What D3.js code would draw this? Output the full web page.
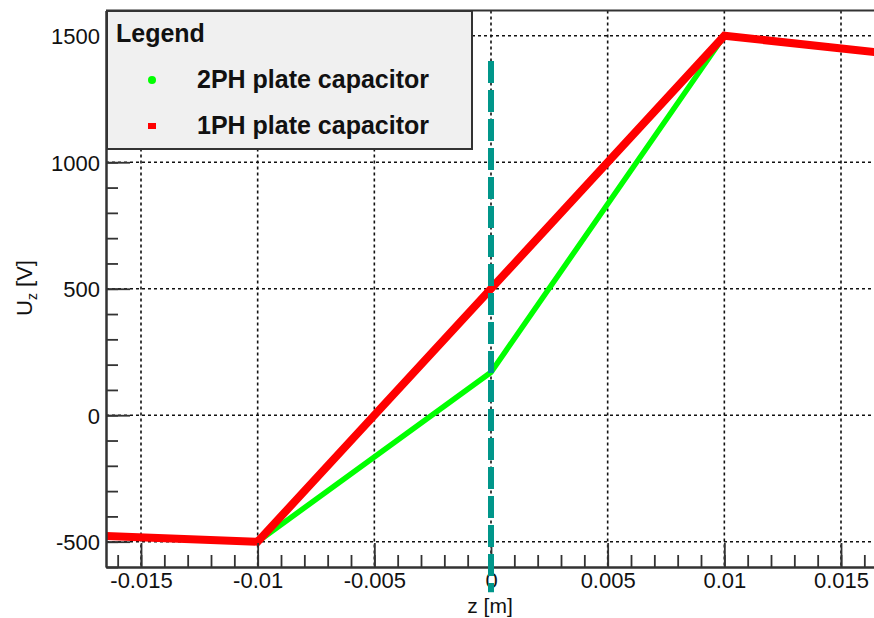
<!DOCTYPE html>
<html>
<head>
<meta charset="utf-8">
<script src="https://cdn.jsdelivr.net/npm/d3@7"></script>
<style>
  html, body { margin: 0; padding: 0; background: #fff; }
  svg { display: block; }
  text { font-family: "Liberation Sans", Arial, Helvetica, sans-serif; fill: #111; }
</style>
</head>
<body>
<svg id="chart" width="874" height="618"></svg>
<script>
// ---- data ----
const seriesNames = ["2PH plate capacitor", "1PH plate capacitor"];
const seriesColors = ["#00ff00", "#ff0000"];
const z2PH = [-0.0165, -0.01, 0, 0.01, 0.0165];
const u2PH = [-478, -500, 170, 1500, 1435];
const z1PH = [-0.0165, -0.01, 0.01, 0.0165];
const u1PH = [-477, -500, 1500, 1435];
const xTickValues = [-0.015, -0.01, -0.005, 0, 0.005, 0.01, 0.015];
const xTickLabels = ["-0.015", "-0.01", "-0.005", "0", "0.005", "0.01", "0.015"];
const yTickValues = [-500, 0, 500, 1000, 1500];
const yTickLabels = ["-500", "0", "500", "1000", "1500"];
const markerZ = 0;
const markerU = [1400, -700];

// ---- layout ----
const svg = d3.select("#chart");
const pLeft = 106, pRight = 876, pTop = 10.5, pBottom = 567;
const x = d3.scaleLinear().domain([-0.0165, 0.0165]).range([pLeft, pRight]);
const y = d3.scaleLinear().domain([-600, 1600]).range([pBottom, pTop]);

svg.append("defs").append("clipPath").attr("id", "plotclip")
  .append("rect").attr("x", pLeft).attr("y", pTop).attr("width", pRight - pLeft).attr("height", pBottom - pTop);

// grid
const grid = svg.append("g").attr("stroke", "#111").attr("stroke-width", 1.6).attr("stroke-dasharray", "3,3");
xTickValues.forEach(v => grid.append("line").attr("x1", x(v)).attr("x2", x(v)).attr("y1", pTop).attr("y2", pBottom));
yTickValues.forEach(v => grid.append("line").attr("x1", pLeft).attr("x2", pRight).attr("y1", y(v)).attr("y2", y(v)));

// data lines
const plot = svg.append("g").attr("clip-path", "url(#plotclip)");
const line = d3.line().x(d => x(d[0])).y(d => y(d[1]));
const d2 = z2PH.map((z, i) => [z, u2PH[i]]);
const d1 = z1PH.map((z, i) => [z, u1PH[i]]);
plot.append("path").attr("d", line(d2)).attr("fill", "none").attr("stroke", seriesColors[0])
  .attr("stroke-width", 5.5).attr("stroke-linejoin", "miter");
plot.append("path").attr("d", line(d1)).attr("fill", "none").attr("stroke", seriesColors[1])
  .attr("stroke-width", 8).attr("stroke-linejoin", "miter");

// axes
const xMinor = d3.range(-16, 17).map(i => i * 0.001);
const yMinor = d3.range(-6, 17).map(i => i * 100);
const xAxis = d3.axisBottom(x).tickValues(xMinor).tickSizeInner(-12).tickSizeOuter(0).tickFormat("");
const gx = svg.append("g").attr("transform", `translate(0,${pBottom})`).call(xAxis);
const yAxis = d3.axisLeft(y).tickValues(yMinor).tickSizeInner(-12).tickSizeOuter(0).tickFormat("");
const gy = svg.append("g").attr("transform", `translate(${pLeft},0)`).call(yAxis);
const xMajorAxis = d3.axisBottom(x).tickValues(xTickValues).tickSizeInner(-24).tickSizeOuter(0)
  .tickFormat((d, i) => xTickLabels[i]);
const gxM = svg.append("g").attr("transform", `translate(0,${pBottom})`).call(xMajorAxis);
const yMajorAxis = d3.axisLeft(y).tickValues(yTickValues).tickSizeInner(-24).tickSizeOuter(0)
  .tickFormat((d, i) => yTickLabels[i]);
const gyM = svg.append("g").attr("transform", `translate(${pLeft},0)`).call(yMajorAxis);
[gx, gy, gxM, gyM].forEach(g => {
  g.selectAll("line").attr("stroke", "#333").attr("stroke-width", 1.8);
  g.select(".domain").attr("stroke", "#333").attr("stroke-width", 2);
});
gxM.selectAll("text").attr("font-size", 22).attr("y", 21).attr("dy", 0)
  .attr("font-family", "Liberation Sans, Arial, sans-serif").attr("fill", "#111");
gyM.selectAll("text").attr("font-size", 22).attr("x", -6).attr("dy", "0.36em")
  .attr("font-family", "Liberation Sans, Arial, sans-serif").attr("fill", "#111");
// top frame
svg.append("line").attr("x1", pLeft).attr("x2", 874).attr("y1", pTop).attr("y2", pTop)
  .attr("stroke", "#333").attr("stroke-width", 2);

// axis titles
svg.append("text").attr("x", 490).attr("y", 613).attr("text-anchor", "middle")
  .attr("font-size", 21).text("z [m]");
const yt = svg.append("text").attr("transform", "translate(32,288) rotate(-90)")
  .attr("text-anchor", "middle").attr("font-size", 22);
yt.append("tspan").text("U");
yt.append("tspan").attr("font-size", 14).attr("dy", 5).text("z");
yt.append("tspan").attr("dy", -5).text(" [V]");

// legend
const lg = svg.append("g");
lg.append("rect").attr("x", 107).attr("y", 11).attr("width", 365).attr("height", 138)
  .attr("fill", "#f0f0f0").attr("stroke", "#333").attr("stroke-width", 2);
lg.append("text").attr("x", 116).attr("y", 42).attr("font-size", 25).attr("font-weight", "bold").text("Legend");
lg.append("circle").attr("cx", 152).attr("cy", 80).attr("r", 4).attr("fill", seriesColors[0]);
lg.append("rect").attr("x", 148).attr("y", 123).attr("width", 8).attr("height", 6).attr("fill", seriesColors[1]);
lg.append("text").attr("x", 197).attr("y", 88).attr("font-size", 25).attr("font-weight", "bold").text(seriesNames[0]);
lg.append("text").attr("x", 197).attr("y", 134).attr("font-size", 25).attr("font-weight", "bold").text(seriesNames[1]);

// dashed marker line at z = 0
svg.append("line").attr("x1", x(markerZ)).attr("x2", x(markerZ))
  .attr("y1", y(markerU[0])).attr("y2", y(markerU[1]))
  .attr("stroke", "#00968a").attr("stroke-width", 6).attr("stroke-dasharray", "22,7");
</script>
</body>
</html>
